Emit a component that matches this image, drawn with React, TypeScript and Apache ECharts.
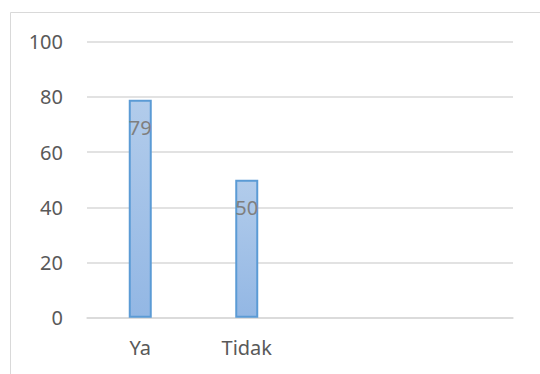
import React, { useEffect, useRef } from "react";
import * as echarts from "echarts";

const categories = ["Ya", "Tidak", "", ""];
const values: (number | null)[] = [79, 50, null, null];
const yTicks = { min: 0, max: 100, interval: 20 };

export default function App() {
  const ref = useRef<HTMLDivElement>(null);
  useEffect(() => {
    if (!ref.current) return;
    const chart = echarts.init(ref.current, undefined, { renderer: "svg" });
    const font = "'Noto Sans', 'Open Sans', sans-serif";
    chart.setOption({
      animation: false,
      backgroundColor: "#ffffff",
      graphic: [
        {
          type: "rect",
          shape: { x: 10.5, y: 12.5, width: 600, height: 400 },
          style: { fill: "none", stroke: "#d9d9d9", lineWidth: 1 },
          silent: true,
          z: 0,
        },
      ],
      grid: { left: 87, right: 27, top: 41.7, bottom: 56.3 },
      xAxis: {
        type: "category",
        data: categories,
        axisTick: { show: false },
        axisLine: { show: true, lineStyle: { color: "#d9d9d9", width: 1.5 } },
        axisLabel: { color: "#595959", fontSize: 20, fontFamily: font, margin: 20 },
      },
      yAxis: {
        type: "value",
        min: yTicks.min,
        max: yTicks.max,
        interval: yTicks.interval,
        axisLine: { show: false },
        axisTick: { show: false },
        splitLine: { lineStyle: { color: "#d9d9d9", width: 1.5 } },
        axisLabel: { color: "#595959", fontSize: 20, fontFamily: font, margin: 24 },
      },
      series: [
        {
          type: "bar",
          data: values,
          barWidth: 23,
          itemStyle: {
            color: new echarts.graphic.LinearGradient(0, 0, 0, 1, [
              { offset: 0, color: "#b2cceb" },
              { offset: 1, color: "#93b7e4" },
            ]),
            borderColor: "#5b9bd5",
            borderWidth: 2,
          },
          label: {
            show: true,
            position: "insideTop",
            distance: 18,
            color: "#7f7f7f",
            fontSize: 20,
            fontFamily: font,
          },
        },
      ],
    });
    return () => chart.dispose();
  }, []);
  return (
    <div
      ref={ref}
      style={{ position: "fixed", left: 0, top: 0, width: 540, height: 374 }}
    />
  );
}
